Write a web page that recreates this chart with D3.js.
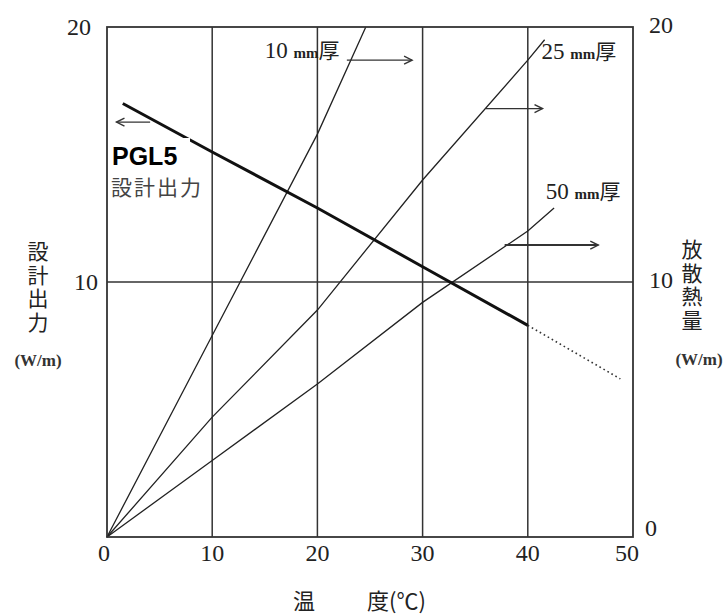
<!DOCTYPE html>
<html>
<head>
<meta charset="utf-8">
<script src="https://cdn.jsdelivr.net/npm/d3@7"></script>
<style>
  body { margin: 0; background: #fff; }
  svg { display: block; }
</style>
</head>
<body>
<svg id="chart"></svg>
<script>
const width = 723;
const height = 616;
const margin = { top: 27, right: 90, bottom: 79, left: 107 };

// axis ticks: temperature (°C) and output / heat loss (W/m)
const xTicks = [0, 10, 20, 30, 40, 50];
const leftTicks = [10, 20];
const rightTicks = [0, 10, 20];

// heat loss per insulation thickness (right axis)
const temp10mm = [0, 10, 20, 24.6];
const heat10mm = [0, 7.9, 15.8, 20];
const temp25mm = [0, 10, 20, 30, 40, 41.6];
const heat25mm = [0, 4.7, 8.9, 14.0, 18.7, 19.5];
const temp50mm = [0, 10, 20, 30, 40, 42.5];
const heat50mm = [0, 3.0, 6.0, 9.2, 12.0, 12.9];

// PGL5 design output (left axis), dotted past 40°C
const tempDesign = [1.5, 10, 20, 30, 40];
const outDesign = [17.0, 15.1, 12.9, 10.6, 8.3];
const tempDesignExt = [40, 48.8];
const outDesignExt = [8.3, 6.2];

const serif = '"Liberation Serif", "DejaVu Serif", serif';
const cjk = '"Noto Sans CJK JP", "Noto Sans CJK SC", sans-serif';

const svg = d3.select('#chart').attr('width', width).attr('height', height);
svg.append('rect').attr('width', width).attr('height', height).attr('fill', '#fff');

const x = d3.scaleLinear().domain([0, 50]).range([margin.left, width - margin.right]);
const y = d3.scaleLinear().domain([0, 20]).range([height - margin.bottom, margin.top]);

const zip = (ts, vs) => ts.map((t, i) => [t, vs[i]]);
const line = d3.line().x((d) => x(d[0])).y((d) => y(d[1]));

// arrow head, open chevron
const defs = svg.append('defs');
defs.append('marker')
  .attr('id', 'head')
  .attr('viewBox', '-9 -5 11 10')
  .attr('markerWidth', 11)
  .attr('markerHeight', 10)
  .attr('markerUnits', 'userSpaceOnUse')
  .attr('orient', 'auto')
  .append('path')
  .attr('d', 'M-8,-4 L0,0 L-8,4')
  .attr('fill', 'none')
  .attr('stroke', '#333')
  .attr('stroke-width', 1.4);

// grid
const grid = svg.append('g').attr('stroke', '#333').attr('stroke-width', 1.5);
grid.selectAll('.vgrid')
  .data(xTicks.slice(1, -1))
  .join('line')
  .attr('x1', (d) => x(d)).attr('x2', (d) => x(d))
  .attr('y1', y(20)).attr('y2', y(0));
grid.append('line')
  .attr('x1', x(0)).attr('x2', x(50))
  .attr('y1', y(10)).attr('y2', y(10));

// heat loss lines
const lossLines = [zip(temp10mm, heat10mm), zip(temp25mm, heat25mm), zip(temp50mm, heat50mm)];
svg.append('g')
  .selectAll('path')
  .data(lossLines)
  .join('path')
  .attr('d', line)
  .attr('fill', 'none')
  .attr('stroke', '#222')
  .attr('stroke-width', 1.3);

// design output
svg.append('path')
  .attr('d', line(zip(tempDesign, outDesign)))
  .attr('fill', 'none')
  .attr('stroke', '#111')
  .attr('stroke-width', 3);
svg.append('path')
  .attr('d', line(zip(tempDesignExt, outDesignExt)))
  .attr('fill', 'none')
  .attr('stroke', '#333')
  .attr('stroke-width', 1.6)
  .attr('stroke-dasharray', '1.6,3');

// arrows pointing to the matching axis
const arrows = [
  { from: 22.8, to: 29.0, v: 18.7, w: 1.4 },
  { from: 36.0, to: 41.4, v: 16.8, w: 1.2 },
  { from: 37.8, to: 46.7, v: 11.45, w: 2 },
  { from: 4.1, to: 0.9, v: 16.27, w: 1.2 },
];
svg.append('g')
  .selectAll('line')
  .data(arrows)
  .join('line')
  .attr('x1', (d) => x(d.from)).attr('x2', (d) => x(d.to))
  .attr('y1', (d) => y(d.v)).attr('y2', (d) => y(d.v))
  .attr('stroke', '#333')
  .attr('stroke-width', (d) => d.w)
  .attr('marker-end', 'url(#head)');

// thickness labels
const thickLabels = [
  { t: 15.0, v: 18.8, num: '10' },
  { t: 41.3, v: 18.75, num: '25' },
  { t: 41.7, v: 13.25, num: '50' },
];
thickLabels.forEach((d) => {
  const txt = svg.append('text')
    .attr('x', x(d.t)).attr('y', y(d.v))
    .attr('fill', '#222');
  txt.append('tspan').attr('font-family', serif).attr('font-size', 23).text(d.num + ' ');
  txt.append('tspan').attr('font-family', serif).attr('font-size', 15).attr('font-weight', 'bold').text('mm');
  txt.append('tspan').attr('font-family', cjk).attr('font-size', 21).text('厚');
});

// PGL5 label box
svg.append('rect')
  .attr('x', 108).attr('y', 138).attr('width', 82).attr('height', 33)
  .attr('fill', '#fff');
svg.append('text')
  .attr('x', 112).attr('y', 165)
  .attr('font-family', '"Liberation Sans", Arial, sans-serif')
  .attr('font-weight', 'bold')
  .attr('font-size', 25)
  .attr('fill', '#000')
  .text('PGL5');
svg.append('text')
  .attr('x', 111).attr('y', 195)
  .attr('font-family', cjk)
  .attr('font-size', 21)
  .attr('fill', '#444')
  .attr('letter-spacing', 2)
  .text('設計出力');

// frame
svg.append('rect')
  .attr('x', x(0)).attr('y', y(20))
  .attr('width', x(50) - x(0)).attr('height', y(0) - y(20))
  .attr('fill', 'none')
  .attr('stroke', '#333')
  .attr('stroke-width', 1.8);

// tick labels
const tickFont = (sel) => sel.attr('font-family', serif).attr('font-size', 24).attr('fill', '#222');

svg.append('g')
  .selectAll('text')
  .data(xTicks)
  .join('text')
  .call(tickFont)
  .attr('x', (d) => x(d) - (d === 0 ? 3 : 0) - (d === 50 ? 6 : 0))
  .attr('y', y(0) + 24)
  .attr('text-anchor', 'middle')
  .text((d) => d);

svg.append('g')
  .selectAll('text')
  .data(leftTicks)
  .join('text')
  .call(tickFont)
  .attr('x', (d) => (d === 20 ? 91 : 98))
  .attr('y', (d) => y(d) + 8)
  .attr('text-anchor', 'end')
  .text((d) => d);

svg.append('g')
  .selectAll('text')
  .data(rightTicks)
  .join('text')
  .call(tickFont)
  .attr('x', (d) => (d === 0 ? 645 : 649))
  .attr('y', (d) => y(d) + (d === 0 ? -1 : 6))
  .attr('text-anchor', 'start')
  .text((d) => d);

// axis titles (vertical)
const vertical = (label, cx, top) => {
  svg.append('text')
    .attr('x', cx)
    .attr('y', top)
    .attr('writing-mode', 'vertical-rl')
    .attr('font-family', cjk)
    .attr('font-size', 21)
    .attr('letter-spacing', 2.5)
    .attr('fill', '#222')
    .text(label);
};
vertical('設計出力', 38, 241);
vertical('放散熱量', 692, 239);

svg.append('text')
  .attr('x', 38).attr('y', 366)
  .attr('text-anchor', 'middle')
  .attr('font-family', serif).attr('font-weight', 'bold').attr('font-size', 17)
  .attr('fill', '#333')
  .text('(W/m)');
svg.append('text')
  .attr('x', 699).attr('y', 365)
  .attr('text-anchor', 'middle')
  .attr('font-family', serif).attr('font-weight', 'bold').attr('font-size', 17)
  .attr('fill', '#333')
  .text('(W/m)');

svg.append('text')
  .attr('x', 293).attr('y', 609)
  .attr('font-family', cjk).attr('font-size', 22).attr('fill', '#222')
  .text('温');
svg.append('text')
  .attr('x', 367).attr('y', 609)
  .attr('font-family', cjk).attr('font-size', 22).attr('fill', '#222')
  .text('度(℃)');
</script>
</body>
</html>
